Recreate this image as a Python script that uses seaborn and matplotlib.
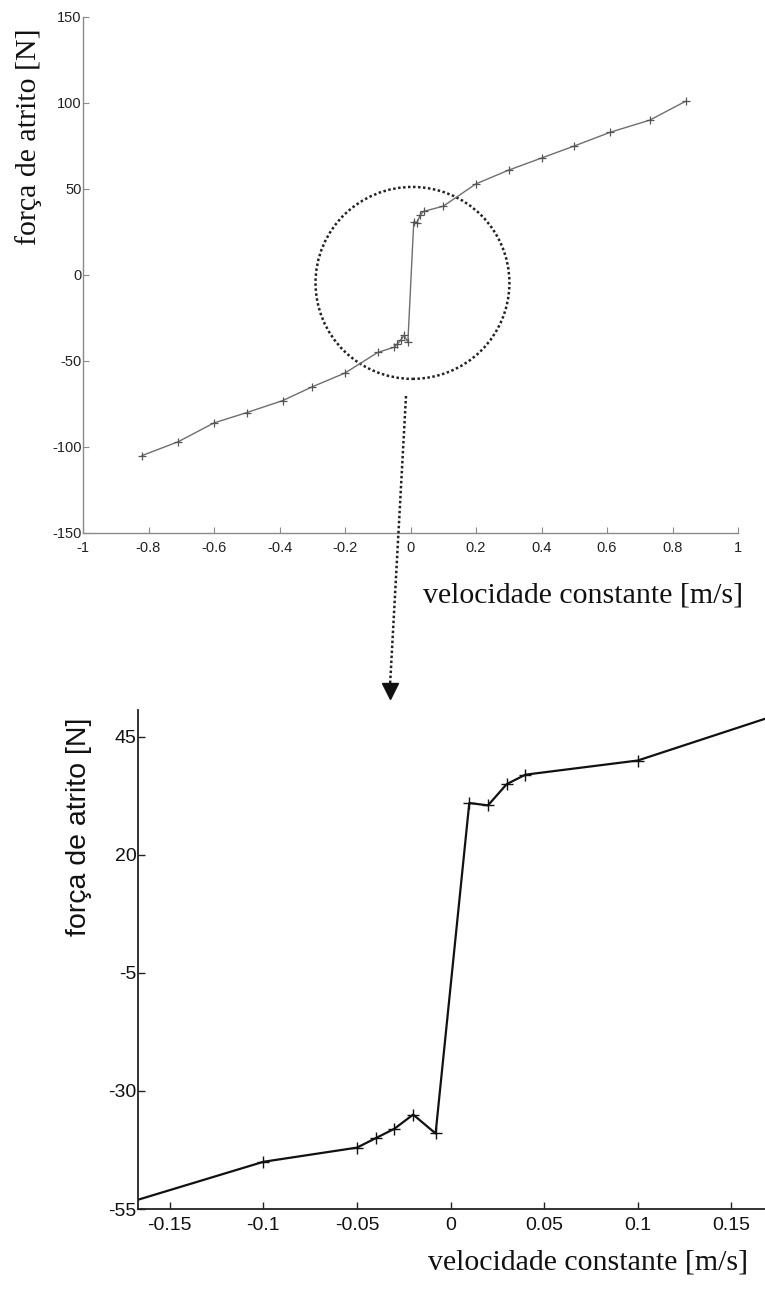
import numpy as np
import pandas as pd
import seaborn as sns
import matplotlib
matplotlib.use("Agg")
import matplotlib.pyplot as plt
from matplotlib.patches import Ellipse
from matplotlib.lines import Line2D
from matplotlib.ticker import FuncFormatter

# ---- data ----
velocidade = [-0.82, -0.71, -0.60, -0.50, -0.39, -0.30, -0.20, -0.10, -0.05, -0.04,
              -0.03, -0.02, -0.008, 0.01, 0.02, 0.03, 0.04, 0.10, 0.20, 0.30,
              0.40, 0.50, 0.61, 0.73, 0.84]
forca = [-105, -97, -86, -80, -73, -65, -57, -45, -42, -40,
         -38, -35, -39, 31, 30.5, 35, 37, 40, 53, 61,
         68, 75, 83, 90, 101]

top_xticks = [-1, -0.8, -0.6, -0.4, -0.2, 0, 0.2, 0.4, 0.6, 0.8, 1]
top_yticks = [-150, -100, -50, 0, 50, 100, 150]
bot_xticks = [-0.15, -0.1, -0.05, 0, 0.05, 0.1, 0.15]
bot_yticks = [-55, -30, -5, 20, 45]

xlabel = "velocidade constante [m/s]"
ylabel = "força de atrito [N]"

df = pd.DataFrame({"v": velocidade, "f": forca})

sns.set_style("ticks")
plt.rcParams["font.family"] = ["Liberation Sans", "DejaVu Sans"]
plt.rcParams["axes.unicode_minus"] = False

W, H = 765, 1295
fig = plt.figure(figsize=(W / 100, H / 100), dpi=100)

def fx(px):
    return px / W

def fy(py):
    return 1 - py / H

fmt = FuncFormatter(lambda v, p: ("%g" % round(v, 4)))
SERIF = ["Liberation Serif", "DejaVu Serif"]
SANS = ["Liberation Sans", "DejaVu Sans"]

# ---------------- top panel ----------------
ax1 = fig.add_axes([fx(83), fy(533), fx(738) - fx(83), fy(17) - fy(533)])
sns.lineplot(data=df, x="v", y="f", ax=ax1, color="#6e6e6e", lw=1.0,
             marker="+", markersize=6, markeredgewidth=0.9,
             markeredgecolor="#555555", sort=False)
ax1.set_xlim(-1, 1)
ax1.set_ylim(-150, 150)
ax1.set_xticks(top_xticks)
ax1.set_yticks(top_yticks)
ax1.xaxis.set_major_formatter(fmt)
ax1.yaxis.set_major_formatter(fmt)
for s in ["top", "right"]:
    ax1.spines[s].set_visible(False)
for s in ["left", "bottom"]:
    ax1.spines[s].set_color("#8a8a8a")
    ax1.spines[s].set_linewidth(1.0)
ax1.tick_params(axis="both", direction="in", length=4, width=0.8,
                color="#8a8a8a", labelsize=10.5, labelcolor="#222222")
ax1.tick_params(axis="y", pad=1)
ax1.tick_params(axis="x", pad=6)
ax1.set_xlabel(xlabel, family=SERIF, fontsize=21.5, color="#111111")
ax1.set_ylabel(ylabel, family=SERIF, fontsize=21.5, color="#111111")
ax1.xaxis.set_label_coords(0.763, -0.095)
ax1.yaxis.set_label_coords(-0.063, 0.769)

circle = Ellipse((0.006, -4.6), width=0.592, height=111.6, fill=False,
                 edgecolor="#222222", linestyle=(0, (1, 1)), linewidth=1.8)
ax1.add_patch(circle)

# ---------------- bottom panel ----------------
ax2 = fig.add_axes([fx(138), fy(1209), 1 - fx(138), fy(710) - fy(1209)])
sns.lineplot(data=df, x="v", y="f", ax=ax2, color="#111111", lw=1.6,
             marker="+", markersize=8, markeredgewidth=1.0,
             markeredgecolor="#111111", sort=False)
ax2.set_xlim(-0.167, 0.168)
ax2.set_ylim(-55, 50.7)
ax2.set_xticks(bot_xticks)
ax2.set_yticks(bot_yticks)
ax2.xaxis.set_major_formatter(fmt)
ax2.yaxis.set_major_formatter(fmt)
for s in ["top", "right"]:
    ax2.spines[s].set_visible(False)
for s in ["left", "bottom"]:
    ax2.spines[s].set_color("#222222")
    ax2.spines[s].set_linewidth(1.3)
ax2.tick_params(axis="both", direction="in", length=5, width=1.0,
                color="#222222", labelsize=14, labelcolor="#111111")
ax2.tick_params(axis="y", pad=1)
ax2.tick_params(axis="x", pad=6)
ax2.set_xlabel(xlabel, family=SERIF, fontsize=21.5, color="#111111")
ax2.set_ylabel(ylabel, family=SANS, fontsize=20.5, color="#111111")
ax2.xaxis.set_label_coords(0.718, -0.082)
ax2.yaxis.set_label_coords(-0.073, 0.766)

# ---------------- dotted arrow between panels ----------------
fig.add_artist(Line2D([fx(406), fx(390)], [fy(396), fy(686)], transform=fig.transFigure,
                      color="#222222", linestyle=(0, (1, 1)), linewidth=1.8))
fig.add_artist(Line2D([fx(389.5)], [fy(691)], transform=fig.transFigure,
                      color="#111111", marker="v", markersize=12, linestyle="none"))

fig.savefig("out.png", dpi=100)
